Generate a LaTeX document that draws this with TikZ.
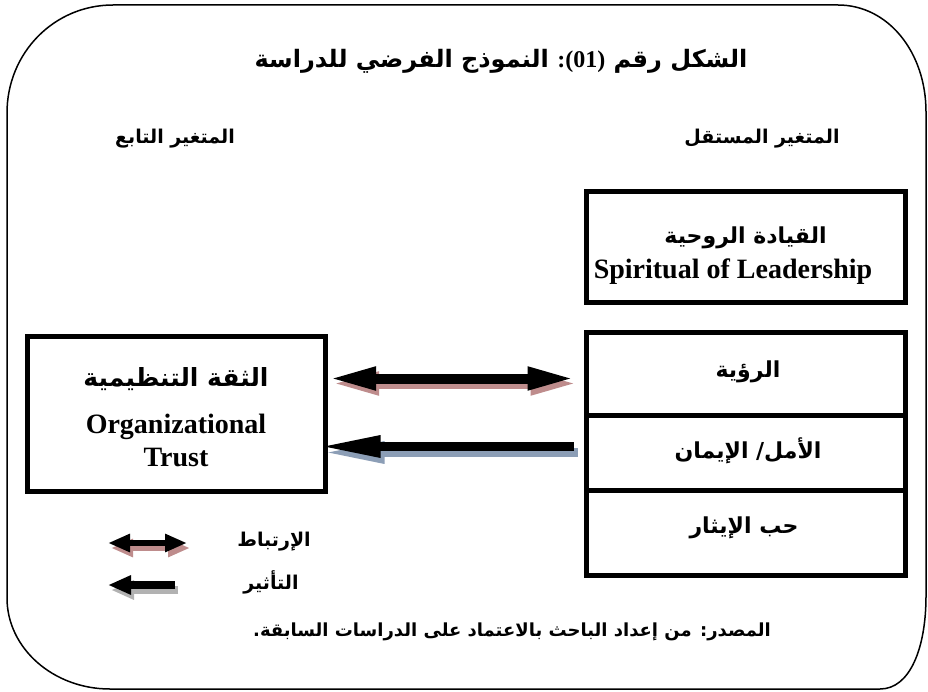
\documentclass[tikz,border=0pt]{standalone}
\usepackage{fontspec}
\usetikzlibrary{arrows.meta,calc}
\TeXXeTstate=1
\newfontfamily\arabicfont[Script=Arabic]{DejaVu Sans}
\newfontfamily\latinfont{Liberation Serif}
\definecolor{corrshadow}{RGB}{190,140,140}
\definecolor{effshadow}{RGB}{140,158,182}
\definecolor{legshadow}{RGB}{178,178,178}
\begin{document}
\begin{tikzpicture}[x=1pt,y=-1pt,
  frame/.style={draw=black,line width=1.5pt},
  boxstyle/.style={draw=black,line width=5pt,rectangle,inner sep=0pt,minimum width=319pt},
  artext/.style={font=\arabicfont\bfseries\fontsize{19}{22}\selectfont,inner sep=0pt},
  arsrc/.style={font=\arabicfont\bfseries\fontsize{18}{21}\selectfont,inner sep=0pt},
  arbox/.style={font=\arabicfont\bfseries\fontsize{22}{26}\selectfont,inner sep=0pt},
  artitle/.style={font=\arabicfont\bfseries\fontsize{24}{28}\selectfont,inner sep=0pt},
  arbig/.style={font=\arabicfont\bfseries\fontsize{25}{29}\selectfont,inner sep=0pt},
  entext/.style={font=\latinfont\bfseries\fontsize{28}{31}\selectfont,inner sep=0pt},
  corr/.style={line width=10pt,{Triangle[length=48pt,width=21pt]}-{Triangle[length=48pt,width=21pt]}},
  eff/.style={line width=9pt,-{Triangle[length=62pt,width=20pt]}},
  legcorr/.style={line width=6pt,{Triangle[length=22pt,width=17pt]}-{Triangle[length=22pt,width=17pt]}},
  legeff/.style={line width=8pt,-{Triangle[length=23pt,width=18pt]}}
]
\useasboundingbox (0,0) rectangle (928,692);
\fill[white] (0,0) rectangle (928,692);

% outer rounded frame
\draw[frame] (113,5) -- (838,5) .. controls (888,5) and (926,52) .. (926,112)
  -- (926,596) .. controls (926,648) and (910,689) .. (880,689)
  -- (110,689) .. controls (53,689) and (7,648) .. (7,598)
  -- (7,113) .. controls (7,53) and (54,5) .. (113,5) -- cycle;

% title and headings
\node[artitle] (title) at (501,61) {\beginR الشكل رقم {\latinfont\beginL:(01)\endL} النموذج الفرضي للدراسة\endR};
\node[artext] (dep) at (175,139) {\beginR المتغير التابع\endR};
\node[artext] (indep) at (762,139) {\beginR المتغير المستقل\endR};

% independent variable boxes
\node[boxstyle,minimum height=111pt] (lead) at (745.5,247.5) {};
\node[arbox] (leadar) at (745.5,238) {\beginR القيادة الروحية\endR};
\node[entext] (leaden) at (733,272) {Spiritual of Leadership};

\node[boxstyle,minimum height=83pt] (vision) at (745.5,373.5) {};
\node[arbox] (visiont) at (748,372) {\beginR الرؤية\endR};
\node[boxstyle,minimum height=75pt] (hope) at (745.5,452.5) {};
\node[arbox] (hopet) at (748,451) {\beginR الأمل/ الإيمان\endR};
\node[boxstyle,minimum height=85pt] (altr) at (745.5,532.5) {};
\node[arbox] (altrt) at (744,528) {\beginR حب الإيثار\endR};

% dependent variable box
\node[boxstyle,minimum width=298pt,minimum height=155pt] (trust) at (176,413.5) {};
\node[arbig] (trustar) at (176,379) {\beginR الثقة التنظيمية\endR};
\node[entext] (trusten1) at (176,427) {Organizational};
\node[entext] (trusten2) at (176,458) {Trust};

% connectors
\coordinate (ca) at ($(trust.east |- vision.west)+(0.5,5)$);
\coordinate (cb) at ($(vision.west)+(-8,5)$);
\coordinate (ea) at ($(hope.west)+(-10,-6)$);
\coordinate (eb) at ($(trust.east |- hope.west)+(-9,-6)$);
\draw[corr,corrshadow] ([shift={(3,5)}]ca) -- ([shift={(3,5)}]cb);
\draw[corr,black] (ca) -- (cb);
\draw[eff,effshadow] ([shift={(4,6)}]ea) -- ([shift={(4,6)}]eb);
\draw[eff,black] (ea) -- (eb);

% legend
\coordinate (la) at (108,543);
\coordinate (lb) at (187,543);
\coordinate (lc) at (175,585);
\coordinate (ld) at (108,585);
\draw[legcorr,corrshadow] ([shift={(3,5)}]la) -- ([shift={(3,5)}]lb);
\draw[legcorr,black] (la) -- (lb);
\draw[legeff,legshadow] ([shift={(3,5)}]lc) -- ([shift={(3,5)}]ld);
\draw[legeff,black] (lc) -- (ld);
\node[artext] (corrlab) at (274,542) {\beginR الإرتباط\endR};
\node[artext] (efflab) at (271,582) {\beginR التأثير\endR};

% source
\node[arsrc] (source) at (512,632) {\beginR المصدر: من إعداد الباحث بالاعتماد على الدراسات السابقة.\endR};
\end{tikzpicture}
\end{document}
